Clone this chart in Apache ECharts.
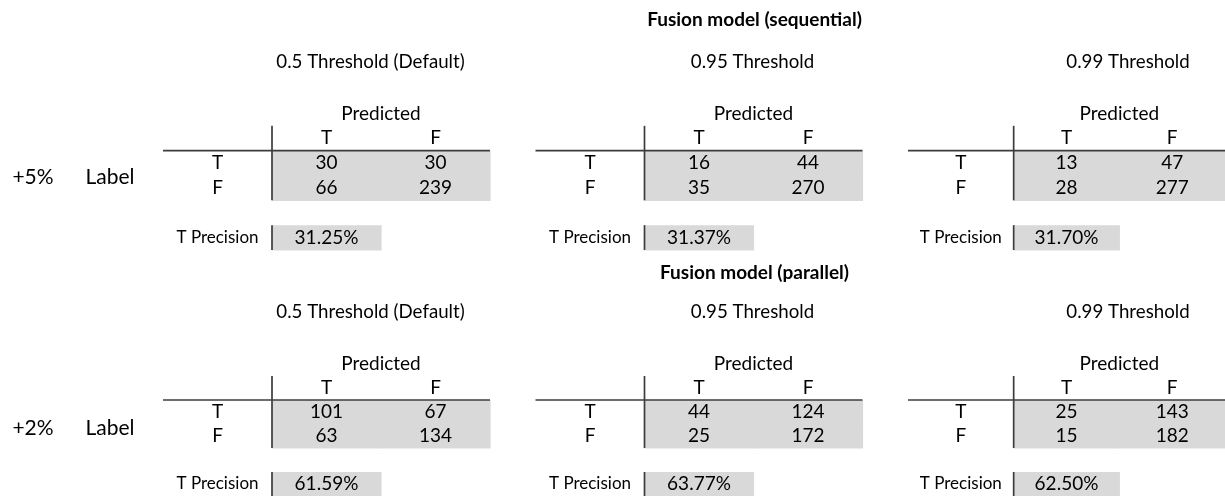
<!DOCTYPE html>
<html>
<head>
<meta charset="utf-8">
<script src="https://cdn.jsdelivr.net/npm/echarts@6/dist/echarts.min.js"></script>
<style>
html,body{margin:0;padding:0;background:#fff;}
#chart{width:1225px;height:496px;}
</style>
</head>
<body>
<div id="chart"></div>
<script>
// ---- data ----
const sections = ['Fusion model (sequential)', 'Fusion model (parallel)'];
const thresholds = ['0.5 Threshold (Default)', '0.95 Threshold', '0.99 Threshold'];
const rowGroups = ['+5%', '+2%'];
const groupLabel = 'Label';
const classes = ['T', 'F'];
const predictedLabel = 'Predicted';
const precisionLabel = 'T Precision';
// confusion matrices: rows = actual label (T, F), cols = predicted (T, F)
const seqMatrices = [
  [[30, 30], [66, 239]],
  [[16, 44], [35, 270]],
  [[13, 47], [28, 277]]
];
const parMatrices = [
  [[101, 67], [63, 134]],
  [[44, 124], [25, 172]],
  [[25, 143], [15, 182]]
];
const seqPrecision = ['31.25%', '31.37%', '31.70%'];
const parPrecision = ['61.59%', '63.77%', '62.50%'];

// ---- layout / style ----
const FONT = 'Lato, "Open Sans", sans-serif';
const GREY = '#d9d9d9';
const LINE = '#3c3c3c';
const INK = '#000';
const GRID_LEFT0 = 163, PANEL_STEP = 372.5, GRID_W = 327;
const GRID_TOP0 = 101, HALF_STEP = 251, GRID_H = 149;
const TITLE_X = [370.5, 752.5, 1128];
const SECTION_X = 754.5;

function buildItems(matrix, precision) {
  const items = [];
  matrix.forEach((row, r) => row.forEach((v, c) => items.push({kind: 'cell', x: c + 1, y: r + 2, text: String(v)})));
  items.push({kind: 'cell', x: 1, y: 5, text: precision});
  items.push({kind: 'text', x: 1.5, y: 0, text: predictedLabel});
  classes.forEach((c, i) => items.push({kind: 'text', x: i + 1, y: 1, text: c}));
  classes.forEach((c, i) => items.push({kind: 'text', x: 0, y: i + 2, text: c}));
  items.push({kind: 'small', x: 0, y: 5, text: precisionLabel});
  items.push({kind: 'line', x: 0.5, y: 0.5, x2: 0.5, y2: 3.5});
  items.push({kind: 'line', x: 0.5, y: 4.5, x2: 0.5, y2: 5.5});
  items.push({kind: 'line', x: -0.5, y: 1.5, x2: 2.5, y2: 1.5});
  return items;
}

const grids = [], xAxes = [], yAxes = [], series = [];
[seqMatrices, parMatrices].forEach((mats, h) => {
  const precs = h === 0 ? seqPrecision : parPrecision;
  mats.forEach((m, i) => {
    const idx = grids.length;
    grids.push({left: GRID_LEFT0 + PANEL_STEP * i, top: GRID_TOP0 + HALF_STEP * h, width: GRID_W, height: GRID_H});
    xAxes.push({type: 'value', gridIndex: idx, min: -0.5, max: 2.5, show: false});
    yAxes.push({type: 'value', gridIndex: idx, min: -0.5, max: 5.5, inverse: true, show: false});
    const items = buildItems(m, precs[i]);
    series.push({
      type: 'custom',
      xAxisIndex: idx,
      yAxisIndex: idx,
      silent: true,
      data: items.map(it => [it.x, it.y]),
      renderItem: function (params, api) {
        const it = items[params.dataIndex];
        const p = api.coord([it.x, it.y]);
        const s = api.size([1, 1]);
        if (it.kind === 'cell') {
          return {type: 'group', children: [
            {type: 'rect', shape: {x: p[0] - s[0] / 2, y: p[1] - s[1] / 2, width: s[0] + 0.6, height: s[1] + 0.6}, style: {fill: GREY}},
            {type: 'text', x: p[0], y: p[1], style: {text: it.text, align: 'center', verticalAlign: 'middle', fontFamily: FONT, fontSize: 19, fill: INK}}
          ]};
        }
        if (it.kind === 'line') {
          const q = api.coord([it.x2, it.y2]);
          return {type: 'line', z2: 10, shape: {x1: p[0], y1: p[1], x2: q[0], y2: q[1]}, style: {stroke: LINE, lineWidth: 1.7}};
        }
        return {type: 'text', x: p[0], y: p[1], style: {text: it.text, align: 'center', verticalAlign: 'middle', fontFamily: FONT, fontSize: it.kind === 'small' ? 17 : 19, fill: INK}};
      }
    });
  });
});

const graphics = [];
sections.forEach((t, h) => {
  graphics.push({type: 'text', x: SECTION_X, y: 20 + HALF_STEP * h + (h ? 2 : 0), style: {text: t, align: 'center', verticalAlign: 'middle', fontFamily: FONT, fontWeight: 'bold', fontSize: 19, fill: INK}});
  thresholds.forEach((th, i) => {
    graphics.push({type: 'text', x: TITLE_X[i], y: 62 + (HALF_STEP - 1) * h, style: {text: th, align: 'center', verticalAlign: 'middle', fontFamily: FONT, fontSize: 18.7, fill: INK}});
  });
  graphics.push({type: 'text', x: 33, y: 177 + HALF_STEP * h, style: {text: rowGroups[h], align: 'center', verticalAlign: 'middle', fontFamily: FONT, fontSize: 21, fill: INK}});
  graphics.push({type: 'text', x: 110, y: 177 + HALF_STEP * h, style: {text: groupLabel, align: 'center', verticalAlign: 'middle', fontFamily: FONT, fontSize: 21, fill: INK}});
});

const chart = echarts.init(document.getElementById('chart'), null, {renderer: 'canvas'});
chart.setOption({
  backgroundColor: '#fff',
  animation: false,
  grid: grids,
  xAxis: xAxes,
  yAxis: yAxes,
  series: series,
  graphic: graphics
});
</script>
</body>
</html>
